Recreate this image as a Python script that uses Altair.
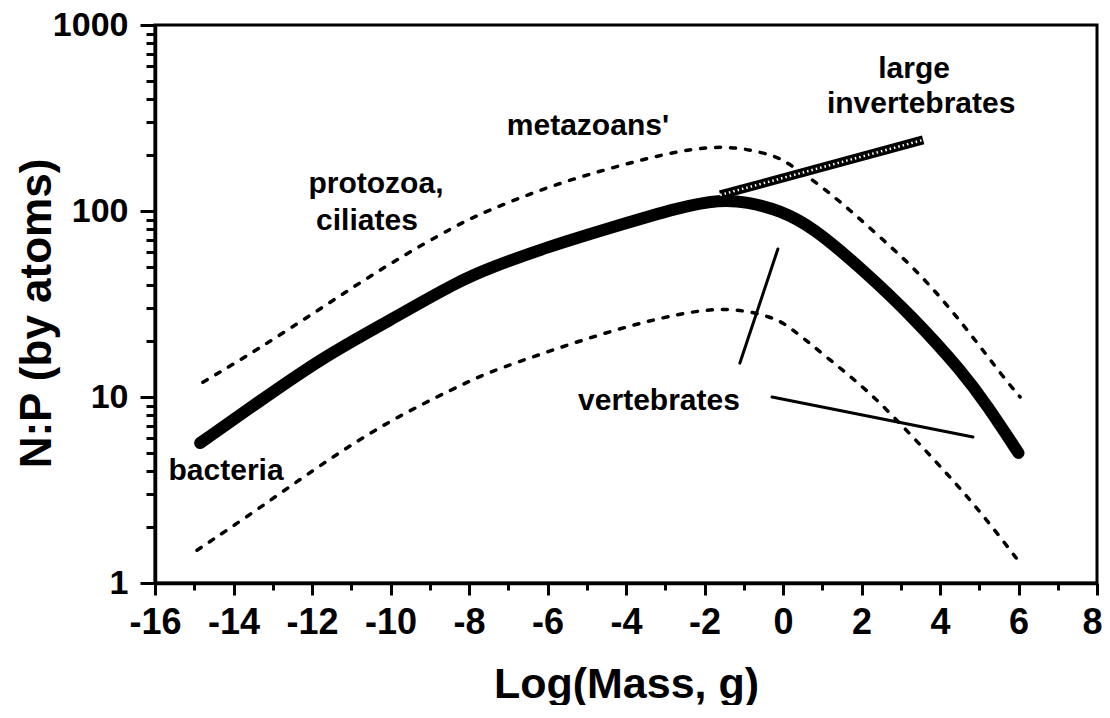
import altair as alt
import pandas as pd

# ---- data ----
main_x = [-14.85, -13.4, -11.72, -10.01, -8.31, -7.46, -6.01, -4.33, -2.62, -1.61, -0.92, -0.08, 0.76, 2.04, 3.31, 4.59, 5.2, 6.0]
main_y = [5.66, 9.29, 16.4, 25.9, 41.5, 49.5, 64.0, 82.0, 105.0, 115.0, 112.0, 101.0, 82.0, 48.2, 26.9, 13.5, 9.0, 5.0]

upper_x = [-14.78, -13.4, -11.72, -10.01, -8.31, -7.64, -6.01, -4.33, -2.62, -1.35, -0.25, 0.10, 0.94, 1.71, 2.47, 3.31, 4.08, 4.84, 5.61, 6.04]
upper_y = [12.0, 17.9, 30.5, 52.5, 84.0, 98.0, 135.0, 172.0, 213.0, 226.0, 200.0, 183.0, 138.0, 101.0, 72.5, 50.0, 33.2, 21.0, 12.8, 10.0]

lower_x = [-14.93, -13.4, -11.72, -10.01, -8.31, -7.54, -6.01, -4.33, -2.62, -1.35, -0.25, 0.18, 1.2, 2.22, 3.31, 4.33, 5.2, 6.04]
lower_y = [1.5, 2.47, 4.42, 7.52, 11.3, 13.5, 17.5, 22.9, 28.3, 30.5, 26.9, 23.8, 15.8, 10.6, 6.1, 3.58, 2.18, 1.28]

inv_x = [-1.6, 3.57]
inv_y = [122.0, 241.0]

ptr_x1 = [-1.1, -0.28]
ptr_y1 = [15.2, 10.0]
ptr_x2 = [-0.13, 4.84]
ptr_y2 = [62.5, 6.1]

label_text = ["bacteria", "protozoa,", "ciliates", "metazoans'", "vertebrates", "large", "invertebrates"]
label_x = [-14.19, -10.37, -10.6, -4.97, -3.16, 3.34, 3.52]
label_y = [3.58, 125.0, 79.0, 256.0, 8.51, 519.0, 336.0]

x_ticks = list(range(-16, 9))
y_ticks = [1, 2, 3, 4, 5, 6, 7, 8, 9, 10, 20, 30, 40, 50, 60, 70, 80, 90,
           100, 200, 300, 400, 500, 600, 700, 800, 900, 1000]

FONT = "Liberation Sans"

main = pd.DataFrame({"x": main_x, "y": main_y})
upper = pd.DataFrame({"x": upper_x, "y": upper_y})
lower = pd.DataFrame({"x": lower_x, "y": lower_y})
inv = pd.DataFrame({"x": inv_x, "y": inv_y})
ptr = pd.DataFrame({"x": ptr_x1, "y": ptr_y1, "x2": ptr_x2, "y2": ptr_y2})
labels = pd.DataFrame({"x": label_x, "y": label_y, "t": label_text})

x_axis = alt.Axis(
    title="Log(Mass, g)", values=x_ticks,
    labelExpr="datum.value % 2 == 0 ? (datum.value < 0 ? '-' + (-datum.value) : '' + datum.value) : ''",
    labelFont=FONT, labelFontSize=36, labelFontWeight="bold", labelColor="black",
    labelPadding=10, labelOverlap=False, labelFlush=False,
    labelOffset={"condition": {"test": "datum.value == 8", "value": -5}, "value": 0},
    tickSize={"condition": {"test": "datum.value % 2 == 0", "value": 12}, "value": 7},
    tickColor="black", tickWidth=3,
    domainColor="black", domainWidth=3.5, grid=False,
    titleFont=FONT, titleFontSize=43, titleFontWeight="bold", titleColor="black",
    titleBaseline="alphabetic", titleY=114,
)
y_axis = alt.Axis(
    title="N:P (by atoms)", values=y_ticks, format="d",
    labelExpr="(datum.value == 1 || datum.value == 10 || datum.value == 100 || datum.value == 1000) ? datum.label : ''",
    labelFont=FONT, labelFontSize=34, labelFontWeight="bold", labelColor="black",
    labelPadding=12, labelOverlap=False, labelFlush=False,
    tickSize={"condition": {"test": "datum.value == 1 || datum.value == 10 || datum.value == 100 || datum.value == 1000", "value": 15}, "value": 9},
    tickColor="black", tickWidth=3,
    domainColor="black", domainWidth=3.5, grid=False,
    titleFont=FONT, titleFontSize=44, titleFontWeight="bold", titleColor="black",
    titleBaseline="alphabetic", titleX=-105, titleY=288, titleAngle=270,
)

X = alt.X("x:Q", scale=alt.Scale(domain=[-16, 8], nice=False, zero=False), axis=x_axis)
Y = alt.Y("y:Q", scale=alt.Scale(type="log", domain=[1, 1000], nice=False), axis=y_axis)

main_line = alt.Chart(main).mark_line(color="black", strokeWidth=12, interpolate="basis", strokeCap="round").encode(x=X, y=Y)
upper_line = alt.Chart(upper).mark_line(color="black", strokeWidth=3.5, strokeDash=[5, 10], strokeCap="round", interpolate="basis").encode(x=X, y=Y)
lower_line = alt.Chart(lower).mark_line(color="black", strokeWidth=3.5, strokeDash=[5, 10], strokeCap="round", interpolate="basis").encode(x=X, y=Y)
inv_line = alt.Chart(inv).mark_line(color="black", strokeWidth=9).encode(x=X, y=Y)
inv_hatch = alt.Chart(inv).mark_line(color="white", strokeWidth=2.5, strokeDash=[1.5, 3]).encode(x=X, y=Y)
pointers = alt.Chart(ptr).mark_rule(color="black", strokeWidth=3, strokeCap="round").encode(x=X, y=Y, x2="x2:Q", y2="y2:Q")
texts = alt.Chart(labels).mark_text(font=FONT, fontSize=30, fontWeight="bold", color="black",
                                    align="center", baseline="alphabetic").encode(x=X, y=Y, text="t:N")

chart = alt.layer(upper_line, lower_line, main_line, inv_line, inv_hatch, pointers, texts).properties(
    width=942, height=558,
    autosize=alt.AutoSizeParams(type="none"),
    padding={"left": 147, "top": 17, "right": 5, "bottom": 122},
    background="white",
).configure_view(stroke="black", strokeWidth=3)

chart.save("out.html", embed_options={"renderer": "svg", "actions": False})
